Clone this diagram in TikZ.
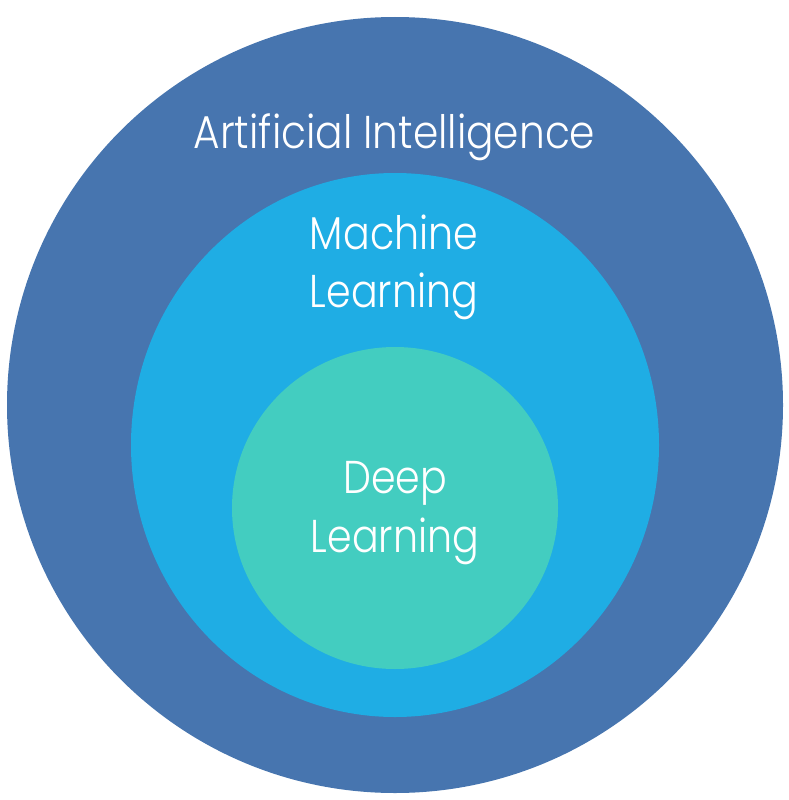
\documentclass[tikz,border=0pt]{standalone}
\usepackage{fontspec}
\setmainfont{Poppins}[UprightFont=* Light, FakeStretch=0.86]
\newfontfamily\aifont{Poppins}[UprightFont=* Light, FakeStretch=0.885]
\usetikzlibrary{shapes.geometric}
\definecolor{aiblue}{HTML}{4775AF}
\definecolor{mlblue}{HTML}{1FADE4}
\definecolor{dlteal}{HTML}{43CDC0}
\tikzset{
  ring/.style={ellipse, inner sep=0pt, outer sep=0pt, draw=none},
  lbl/.style={text=white, anchor=base, inner sep=0pt, font=\fontsize{46}{56}\selectfont}
}
\begin{document}
\begin{tikzpicture}[x=1pt,y=-1pt]
\useasboundingbox (0,0) rectangle (788,800);
\node[ring, fill=aiblue, minimum width=776pt, minimum height=776pt] (ai) at (395,405) {};
\node[ring, fill=mlblue, minimum width=528pt, minimum height=544pt] (ml) at (395,445) {};
\node[ring, fill=dlteal, minimum width=326pt, minimum height=322pt] (dl) at (395,508) {};
\node[lbl, font=\aifont\fontsize{46}{56}\selectfont] (aitxt) at (394.5,148.3) {Artificial Intelligence};
\node[lbl] (mltxt1) at (394,249) {Machine};
\node[lbl] (mltxt2) at (394,307.7) {Learning};
\node[lbl] (dltxt1) at (395,493.3) {Deep};
\node[lbl] (dltxt2) at (395,552.7) {Learning};
\end{tikzpicture}
\end{document}
